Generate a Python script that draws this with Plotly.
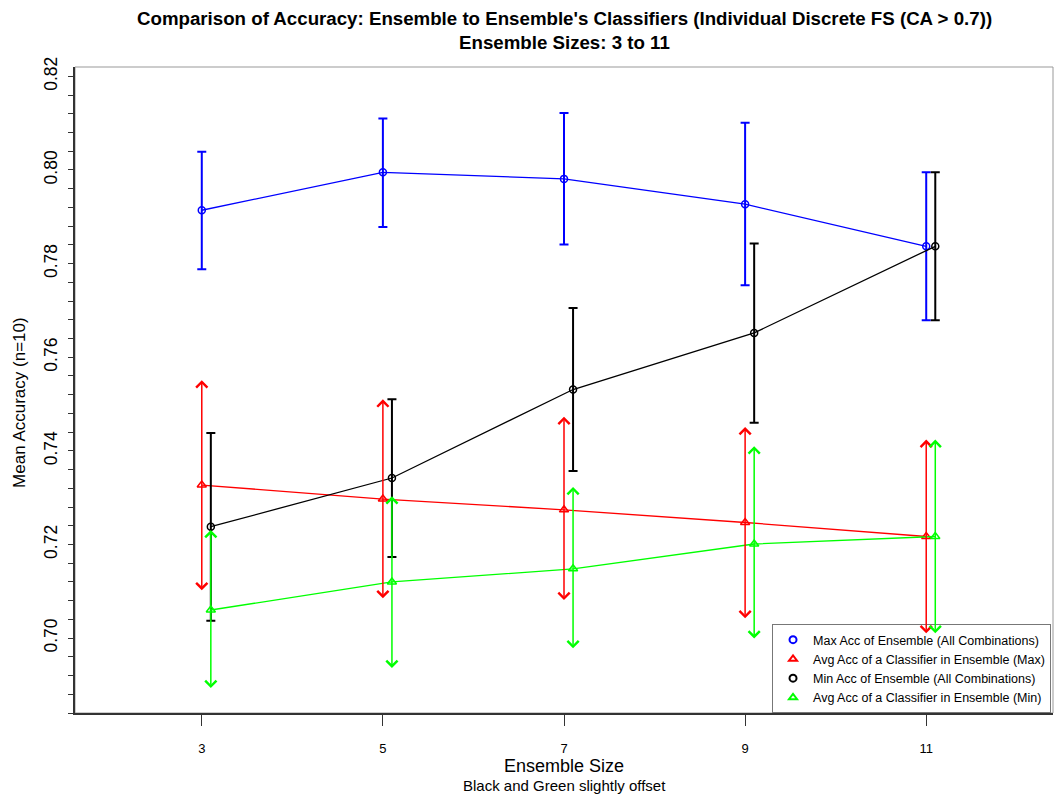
import plotly.graph_objects as go

# Ensemble sizes on the x axis; black and green series are nudged right
ensemble_sizes = [3, 5, 7, 9, 11]
x_offset = 0.1

# Max accuracy of ensemble (all combinations) - blue
max_ens_mean = [0.7914, 0.7995, 0.7981, 0.7927, 0.7837]
max_ens_upper = [0.8039, 0.8110, 0.8122, 0.8101, 0.7995]
max_ens_lower = [0.7788, 0.7878, 0.7841, 0.7754, 0.7679]

# Avg accuracy of a classifier in ensemble (max) - red
avg_max_mean = [0.7327, 0.7297, 0.7274, 0.7247, 0.7217]
avg_max_upper = [0.7551, 0.7510, 0.7473, 0.7451, 0.7424]
avg_max_lower = [0.7099, 0.7082, 0.7078, 0.7039, 0.7007]

# Min accuracy of ensemble (all combinations) - black
min_ens_mean = [0.7238, 0.7342, 0.7531, 0.7652, 0.7837]
min_ens_upper = [0.7438, 0.7510, 0.7705, 0.7843, 0.7995]
min_ens_lower = [0.7037, 0.7173, 0.7357, 0.7460, 0.7679]

# Avg accuracy of a classifier in ensemble (min) - green
avg_min_mean = [0.7060, 0.7120, 0.7148, 0.7201, 0.7217]
avg_min_upper = [0.7231, 0.7303, 0.7323, 0.7410, 0.7424]
avg_min_lower = [0.6890, 0.6933, 0.6975, 0.6996, 0.7007]

legend_names = [
    "Max Acc of Ensemble (All Combinations)",
    "Avg Acc of a Classifier in Ensemble (Max)",
    "Min Acc of Ensemble (All Combinations)",
    "Avg Acc of a Classifier in Ensemble (Min)",
]

BLUE, RED, BLACK, GREEN = "#0000ff", "#ff0000", "#000000", "#00ff00"
FONT = "Liberation Sans, Arial, Helvetica, sans-serif"

x_plain = list(ensemble_sizes)
x_shift = [v + x_offset for v in ensemble_sizes]

fig = go.Figure()


def capped_series(xs, mean, upper, lower, color, symbol):
    fig.add_trace(go.Scatter(
        x=xs, y=mean, mode="lines+markers", showlegend=False,
        line=dict(color=color, width=1.3),
        marker=dict(symbol=symbol, size=7, color=color, line=dict(width=1.5, color=color)),
        error_y=dict(type="data", symmetric=False,
                     array=[u - m for u, m in zip(upper, mean)],
                     arrayminus=[m - l for m, l in zip(mean, lower)],
                     color=color, thickness=2, width=4.5),
    ))


def arrow_series(xs, mean, upper, lower, color, symbol):
    fig.add_trace(go.Scatter(
        x=xs, y=mean, mode="lines+markers", showlegend=False,
        line=dict(color=color, width=1.3),
        marker=dict(symbol=symbol, size=8, color=color, line=dict(width=1.5, color=color)),
    ))
    for xv, hi, lo in zip(xs, upper, lower):
        fig.add_annotation(
            x=xv, y=hi, ax=xv, ay=lo, xref="x", yref="y", axref="x", ayref="y",
            text="", showarrow=True, arrowside="end+start",
            arrowhead=4, startarrowhead=4, arrowsize=1.45, startarrowsize=1.45,
            arrowwidth=1.5, arrowcolor=color,
        )


capped_series(x_plain, max_ens_mean, max_ens_upper, max_ens_lower, BLUE, "circle-open")
arrow_series(x_plain, avg_max_mean, avg_max_upper, avg_max_lower, RED, "triangle-up-open")
capped_series(x_shift, min_ens_mean, min_ens_upper, min_ens_lower, BLACK, "circle-open")
arrow_series(x_shift, avg_min_mean, avg_min_upper, avg_min_lower, GREEN, "triangle-up-open")

# Legend entries show the point symbol only
for name, color, symbol in zip(legend_names, [BLUE, RED, BLACK, GREEN],
                               ["circle-open", "triangle-up-open", "circle-open", "triangle-up-open"]):
    fig.add_trace(go.Scatter(
        x=[None], y=[None], mode="markers", name=name,
        marker=dict(symbol=symbol, size=7, color=color, line=dict(width=2, color=color)),
    ))

fig.update_layout(
    width=1054, height=794,
    margin=dict(l=75, r=1, t=67, b=81),
    paper_bgcolor="white", plot_bgcolor="white",
    font=dict(family=FONT, color="black"),
    showlegend=True,
    legend=dict(
        x=0.7127, y=0, xanchor="left", yanchor="bottom",
        bgcolor="white", bordercolor="#777", borderwidth=1,
        font=dict(size=12.5, family=FONT), tracegroupgap=0,
        itemwidth=30,
    ),
    xaxis=dict(
        range=[1.6, 12.4], tickvals=ensemble_sizes, ticktext=[str(v) for v in ensemble_sizes],
        ticks="outside", ticklen=11, tickcolor="#333", tickwidth=1,
        showline=True, linecolor="#333", linewidth=1.5,
        showgrid=False, zeroline=False,
        tickfont=dict(size=13), ticklabelstandoff=12,
    ),
    yaxis=dict(
        range=[0.684, 0.822], tickvals=[0.70, 0.72, 0.74, 0.76, 0.78, 0.80, 0.82],
        ticktext=["0.70", "0.72", "0.74", "0.76", "0.78", "0.80", "0.82"],
        ticks="outside", ticklen=5, tickcolor="#333", tickwidth=1,
        minor=dict(tickvals=[round(0.684 + 0.004 * i, 3) for i in range(35)],
                   ticks="outside", ticklen=5, tickcolor="#333", showgrid=False),
        showline=True, linecolor="#333", linewidth=1.5,
        showgrid=False, zeroline=False,
        tickangle=-90, tickfont=dict(size=17.5), ticklabelstandoff=4,
    ),
)

# Plot frame (top and right edges)
fig.add_shape(type="rect", xref="paper", yref="paper", x0=0, x1=1, y0=0, y1=1,
              line=dict(color="#999", width=1), layer="below")

# Titles and axis labels
fig.add_annotation(text="<b>Comparison of Accuracy: Ensemble to Ensemble's Classifiers (Individual Discrete FS (CA > 0.7))</b>",
                   xref="paper", yref="paper", x=0.5, y=1.0754, xanchor="center", yanchor="middle",
                   showarrow=False, font=dict(size=18.7))
fig.add_annotation(text="<b>Ensemble Sizes: 3 to 11</b>",
                   xref="paper", yref="paper", x=0.5, y=1.0382, xanchor="center", yanchor="middle",
                   showarrow=False, font=dict(size=18.7))
fig.add_annotation(text="Ensemble Size", xref="paper", yref="paper", x=0.5, y=-0.0828,
                   xanchor="center", yanchor="middle", showarrow=False, font=dict(size=18))
fig.add_annotation(text="Black and Green slightly offset", xref="paper", yref="paper", x=0.5, y=-0.1130,
                   xanchor="center", yanchor="middle", showarrow=False, font=dict(size=15))
fig.add_annotation(text="Mean Accuracy (n=10)", xref="paper", yref="paper", x=0, xshift=-55, y=0.48,
                   xanchor="center", yanchor="middle", textangle=-90, showarrow=False, font=dict(size=17))

fig.write_html("out.html")
